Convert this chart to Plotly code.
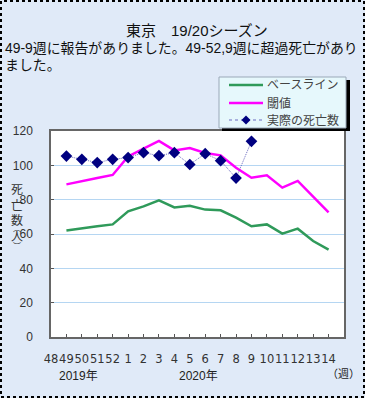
import plotly.graph_objects as go

# ---- data ----
week_labels = ["48", "49", "50", "51", "52", "1", "2", "3", "4", "5", "6", "7",
               "8", "9", "10", "11", "12", "13", "14"]
line_weeks = ["49", "50", "51", "52", "1", "2", "3", "4", "5", "6", "7", "8",
              "9", "10", "11", "12", "13", "14"]
baseline = [62.1, 63.1, 64.5, 65.6, 73.2, 76.1, 79.6, 75.5, 76.5, 74.2, 73.8, 69.5,
            64.5, 65.6, 60.2, 63.1, 55.9, 50.9]
threshold = [88.9, 90.9, 92.6, 94.4, 105.2, 109.7, 114.2, 108.7, 110.1, 107.2, 105.8, 98.6,
             92.8, 94.2, 87.0, 90.9, 81.5, 72.6]
actual_weeks = ["49", "50", "51", "52", "1", "2", "3", "4", "5", "6", "7", "8", "9"]
actual = [105.4, 103.5, 101.6, 103.5, 104.5, 107.4, 105.6, 107.4, 100.5, 106.8, 102.7, 92.6, 114.0]
y_ticks = [0, 20, 40, 60, 80, 100, 120]

title_text = "東京　19/20シーズン"
subtitle_lines = ["49-9週に報告がありました。49-52,9週に超過死亡があり", "ました。"]
legend_names = ["ベースライン", "閾値", "実際の死亡数"]

# ---- colours ----
C_BASE = "#2f9a5a"
C_THR = "#ff00ff"
C_ACT_LINE = "#6a6ac0"
C_ACT_MARK = "#000080"

# ---- layout geometry (px) ----
W, H = 365, 398
L, R, T, B = 51, 21, 131, 61
PW, PH = W - L - R, H - T - B


def px_x(x):
    return (x - L) / PW


def px_y(y):
    return (H - B - y) / PH


FONT = "Liberation Sans, Arial, Noto Sans CJK JP, sans-serif"


def note(text, x, y, size, color="#111", xanchor="center", family=FONT):
    return dict(text=text, x=px_x(x), y=px_y(y), xref="paper", yref="paper",
                xanchor=xanchor, yanchor="middle", showarrow=False,
                font=dict(size=size, color=color, family=family))


fig = go.Figure()
fig.add_trace(go.Scatter(x=line_weeks, y=baseline, name=legend_names[0], mode="lines",
                         line=dict(color=C_BASE, width=2.5)))
fig.add_trace(go.Scatter(x=line_weeks, y=threshold, name=legend_names[1], mode="lines",
                         line=dict(color=C_THR, width=2.5)))
fig.add_trace(go.Scatter(x=actual_weeks, y=actual, name=legend_names[2], mode="lines+markers",
                         line=dict(color=C_ACT_LINE, width=1, dash="1px,1px"),
                         marker=dict(symbol="diamond", size=9, color=C_ACT_MARK)))

# ---- legend box (drawn as shapes + text so it keeps the compact Excel layout) ----
LB_X0, LB_X1, LB_Y0, LB_Y1 = 219, 346, 77, 128
entry_y = [85, 103, 120]
sample_x0, sample_x1, text_x = 229, 263, 265

shapes = [
    # outer dotted frame
    dict(type="rect", xref="paper", yref="paper", layer="below",
         x0=px_x(1), x1=px_x(364), y0=px_y(397), y1=px_y(1),
         line=dict(color="black", width=2, dash="dot")),
    # legend shadow
    dict(type="rect", xref="paper", yref="paper", layer="above",
         x0=px_x(LB_X0 + 3), x1=px_x(LB_X1 + 4), y0=px_y(LB_Y1 + 3), y1=px_y(LB_Y0 + 3),
         fillcolor="black", line=dict(width=0)),
    # legend box
    dict(type="rect", xref="paper", yref="paper", layer="above",
         x0=px_x(LB_X0), x1=px_x(LB_X1), y0=px_y(LB_Y1), y1=px_y(LB_Y0),
         fillcolor="#e6f8fc", line=dict(color="#9aa8b8", width=1)),
]
sample_styles = [dict(color=C_BASE, width=2.5), dict(color=C_THR, width=2.5),
                 dict(color=C_ACT_LINE, width=1, dash="dot")]
for yy, st in zip(entry_y, sample_styles):
    shapes.append(dict(type="line", xref="paper", yref="paper", layer="above",
                       x0=px_x(sample_x0), x1=px_x(sample_x1), y0=px_y(yy), y1=px_y(yy),
                       line=st))
cx, cy, d = (sample_x0 + sample_x1) / 2, entry_y[2], 4.5
shapes.append(dict(type="path", xref="paper", yref="paper", layer="above",
                   path=(f"M {px_x(cx)} {px_y(cy - d)} L {px_x(cx + d)} {px_y(cy)} "
                         f"L {px_x(cx)} {px_y(cy + d)} L {px_x(cx - d)} {px_y(cy)} Z"),
                   fillcolor=C_ACT_MARK, line=dict(width=0)))

annotations = [
    note(title_text, 196.5, 30, 15),
    note(subtitle_lines[0], 3, 47.5, 13.9, xanchor="left"),
    note(subtitle_lines[1], 3, 65, 13.9, xanchor="left"),
    note("2019年", 78, 376, 12, "#222"),
    note("2020年", 198, 376, 12, "#222"),
    note("（週）", 343, 374, 11, "#222"),
]
for name, yy in zip(legend_names, entry_y):
    annotations.append(note(name, text_x, yy, 12, "#444", xanchor="left"))
# vertical y-axis title
annotations.append(note("死<br>亡<br>数<br>人", 17, 213.5, 12, "#333"))
annotations.append(note("︵", 17, 228, 8, "#333"))
annotations.append(note("︶", 17, 246, 8, "#333"))

fig.update_layout(
    width=W, height=H,
    margin=dict(l=L, r=R, t=T, b=B, autoexpand=False),
    paper_bgcolor="#e0eaf8",
    plot_bgcolor="white",
    showlegend=False,
    shapes=shapes,
    annotations=annotations,
    xaxis=dict(type="category", categoryorder="array", categoryarray=week_labels,
               range=[0, 19], tickvals=week_labels, ticktext=week_labels, tickangle=0,
               showgrid=False, ticks="inside", ticklen=3, tickcolor="#555",
               showline=True, linecolor="#666", linewidth=1.5, mirror=True,
               automargin=False,
               tickfont=dict(size=11.5, color="#333", family="DejaVu Sans, sans-serif"),
               ticklabelstandoff=10),
    yaxis=dict(range=[0, 120], tickvals=y_ticks, showgrid=True, gridcolor="#b5d6f2",
               gridwidth=1, ticks="inside", ticklen=3, tickcolor="#555",
               showline=True, linecolor="#666", linewidth=1.5, mirror=True,
               zeroline=False, automargin=False,
               tickfont=dict(size=12, color="#333", family=FONT),
               ticklabelstandoff=14),
)

fig.write_html("out.html", config={"displayModeBar": False},
               post_script="document.body.style.margin='0';document.body.style.padding='0';")
